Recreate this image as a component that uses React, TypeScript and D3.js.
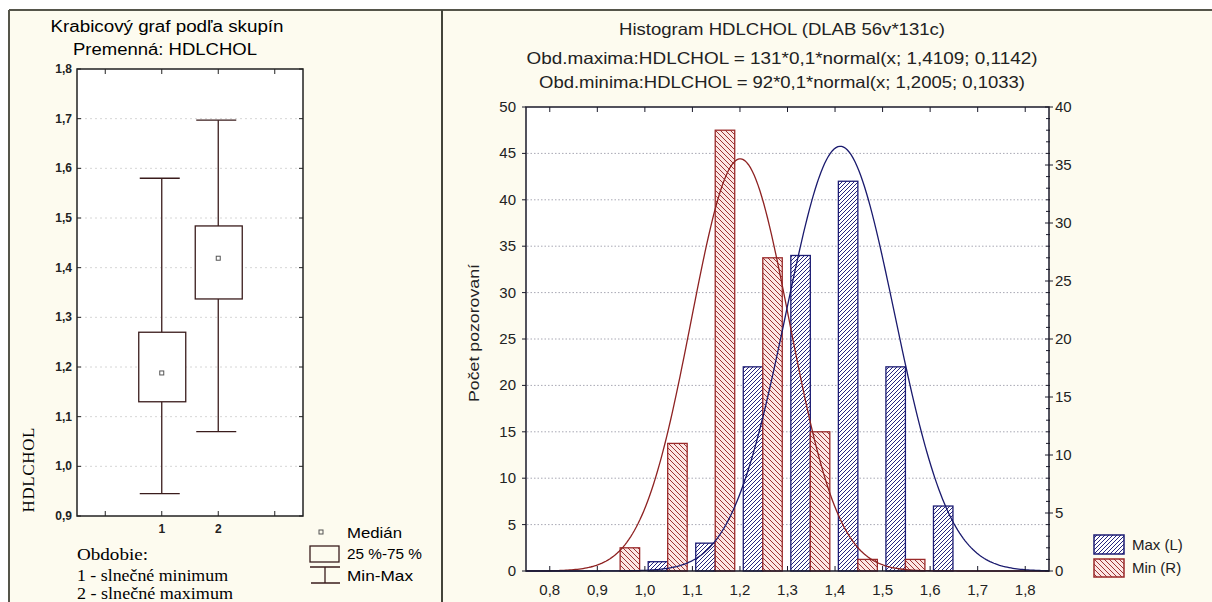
import React, { useEffect, useRef } from "react";
import * as d3 from "d3";

// box plot (left panel)
const boxGroups = [1, 2];
const boxMin = [0.945, 1.07];
const boxQ1 = [1.13, 1.337];
const boxMedian = [1.188, 1.419];
const boxQ3 = [1.27, 1.484];
const boxMax = [1.58, 1.697];
const boxYTicks = [0.9, 1.0, 1.1, 1.2, 1.3, 1.4, 1.5, 1.6, 1.7, 1.8];

// histogram (right panel)
const binStarts = [0.9, 1.0, 1.1, 1.2, 1.3, 1.4, 1.5, 1.6];
const maxCounts = [0, 1, 3, 22, 34, 42, 22, 7];
const minCounts = [2, 11, 38, 27, 12, 1, 1, 0];
const histXTicks = [0.8, 0.9, 1.0, 1.1, 1.2, 1.3, 1.4, 1.5, 1.6, 1.7, 1.8];
const leftTicks = [0, 5, 10, 15, 20, 25, 30, 35, 40, 45, 50];
const rightTicks = [0, 5, 10, 15, 20, 25, 30, 35, 40];

// fitted normal curves, parameters from the chart title
const maxN = 131;
const maxMean = 1.4109;
const maxSd = 0.1142;
const minN = 92;
const minMean = 1.2005;
const minSd = 0.1033;
const binWidth = 0.1;

const comma = (v: number) => d3.format(".1f")(v).replace(".", ",");

const App = () => {
  const ref = useRef<SVGSVGElement>(null);

  useEffect(() => {
    document.body.style.margin = "0";
    const svg = d3.select(ref.current);
    svg.selectAll("*").remove();

    const sans = "'Liberation Sans', Arial, sans-serif";
    const serif = "'Liberation Serif', 'Times New Roman', serif";

    svg.append("rect").attr("width", 1212).attr("height", 602).attr("fill", "#ffffff");
    svg.append("rect").attr("x", 10).attr("y", 10).attr("width", 1202).attr("height", 592).attr("fill", "#fdfbef");

    // patterns
    const defs = svg.append("defs");
    const pb = defs.append("pattern").attr("id", "hatchBlue").attr("patternUnits", "userSpaceOnUse")
      .attr("width", 4).attr("height", 4);
    pb.append("rect").attr("width", 4).attr("height", 4).attr("fill", "#ffffff");
    pb.append("path").attr("d", "M-1,1 l2,-2 M0,4 l4,-4 M3,5 l2,-2")
      .attr("stroke", "#26267e").attr("stroke-width", 1);
    const pr = defs.append("pattern").attr("id", "hatchRed").attr("patternUnits", "userSpaceOnUse")
      .attr("width", 5).attr("height", 5);
    pr.append("rect").attr("width", 5).attr("height", 5).attr("fill", "#fce6e4");
    pr.append("path").attr("d", "M-1,4 l2,2 M0,0 l5,5 M4,-1 l2,2")
      .attr("stroke", "#9c3434").attr("stroke-width", 1);

    // ---------- LEFT: box plot ----------
    const bx = d3.scaleLinear().domain([-0.5, 3.5]).range([77, 303]);
    const by = d3.scaleLinear().domain([0.9, 1.8]).range([516, 69]);
    const left = svg.append("g");

    left.append("text").attr("x", 167).attr("y", 32).attr("text-anchor", "middle")
      .attr("font-family", sans).attr("font-size", 16).attr("textLength", 233)
      .attr("lengthAdjust", "spacingAndGlyphs").text("Krabicový graf podľa skupín");
    left.append("text").attr("x", 165).attr("y", 55).attr("text-anchor", "middle")
      .attr("font-family", sans).attr("font-size", 16).attr("textLength", 184)
      .attr("lengthAdjust", "spacingAndGlyphs").text("Premenná: HDLCHOL");

    left.append("rect").attr("x", 77).attr("y", 69).attr("width", 226).attr("height", 447)
      .attr("fill", "#ffffff");

    boxYTicks.slice(1, -1).forEach((t) => {
      left.append("line").attr("x1", 80).attr("x2", 300).attr("y1", by(t)).attr("y2", by(t))
        .attr("stroke", "#d6d6d6").attr("stroke-dasharray", "2,3");
    });

    const bc = "#3a1c1c";
    boxGroups.forEach((g, i) => {
      const cx = bx(g);
      left.append("line").attr("x1", cx).attr("x2", cx).attr("y1", by(boxMax[i])).attr("y2", by(boxQ3[i]))
        .attr("stroke", bc).attr("stroke-width", 1.3);
      left.append("line").attr("x1", cx).attr("x2", cx).attr("y1", by(boxQ1[i])).attr("y2", by(boxMin[i]))
        .attr("stroke", bc).attr("stroke-width", 1.3);
      [boxMax[i], boxMin[i]].forEach((v) => {
        left.append("line").attr("x1", cx - 22).attr("x2", cx + 18).attr("y1", by(v)).attr("y2", by(v))
          .attr("stroke", bc).attr("stroke-width", 1.3);
      });
      left.append("rect").attr("x", cx - 23).attr("y", by(boxQ3[i])).attr("width", 47)
        .attr("height", by(boxQ1[i]) - by(boxQ3[i])).attr("fill", "#ffffff")
        .attr("stroke", bc).attr("stroke-width", 1.3);
      left.append("rect").attr("x", cx - 2).attr("y", by(boxMedian[i]) - 2).attr("width", 4).attr("height", 4)
        .attr("fill", "none").attr("stroke", "#555").attr("stroke-width", 1);
    });

    // frame + ticks
    left.append("rect").attr("x", 77).attr("y", 69).attr("width", 226).attr("height", 447)
      .attr("fill", "none").attr("stroke", "#222").attr("stroke-width", 1.5);
    boxYTicks.forEach((t) => {
      left.append("line").attr("x1", 77).attr("x2", 81).attr("y1", by(t)).attr("y2", by(t)).attr("stroke", "#222");
      left.append("line").attr("x1", 299).attr("x2", 303).attr("y1", by(t)).attr("y2", by(t)).attr("stroke", "#222");
      left.append("text").attr("x", 72).attr("y", by(t) + 4).attr("text-anchor", "end")
        .attr("font-family", sans).attr("font-size", 12).attr("font-weight", "bold").attr("fill", "#222")
        .text(comma(t));
    });
    [0, 1, 2, 3].forEach((c) => {
      left.append("line").attr("x1", bx(c)).attr("x2", bx(c)).attr("y1", 69).attr("y2", 74).attr("stroke", "#222");
      left.append("line").attr("x1", bx(c)).attr("x2", bx(c)).attr("y1", 511).attr("y2", 516).attr("stroke", "#222");
    });
    boxGroups.forEach((g) => {
      left.append("text").attr("x", bx(g)).attr("y", 533).attr("text-anchor", "middle")
        .attr("font-family", sans).attr("font-size", 12).attr("font-weight", "bold").attr("fill", "#222")
        .text(String(g));
    });

    left.append("text").attr("transform", "translate(34,470) rotate(-90)").attr("text-anchor", "middle")
      .attr("font-family", serif).attr("font-size", 17).attr("textLength", 85).attr("lengthAdjust", "spacing")
      .text("HDLCHOL");

    // left legend
    left.append("rect").attr("x", 319).attr("y", 530).attr("width", 4).attr("height", 4)
      .attr("fill", "none").attr("stroke", "#555");
    left.append("rect").attr("x", 310).attr("y", 546).attr("width", 29).attr("height", 16)
      .attr("fill", "none").attr("stroke", bc).attr("stroke-width", 1.3);
    left.append("path").attr("d", "M310,567 H340 M325,567 V583 M311,583 H340")
      .attr("stroke", bc).attr("stroke-width", 1.3).attr("fill", "none");
    [["Medián", 538, 55], ["25 %-75 %", 559, 75], ["Min-Max", 581, 66]].forEach(([t, y, w]) => {
      left.append("text").attr("x", 347).attr("y", y as number).attr("font-family", sans).attr("font-size", 15)
        .attr("textLength", w as number).attr("lengthAdjust", "spacingAndGlyphs").text(t as string);
    });
    [["Obdobie:", 560, 71], ["1 - slnečné minimum", 581, 151], ["2 - slnečné maximum", 599, 156]].forEach(([t, y, w]) => {
      left.append("text").attr("x", 77).attr("y", y as number).attr("font-family", serif).attr("font-size", 16)
        .attr("textLength", w as number).attr("lengthAdjust", "spacingAndGlyphs").text(t as string);
    });

    // ---------- RIGHT: histogram ----------
    const x = d3.scaleLinear().domain([0.75, 1.85]).range([526, 1049]);
    const yL = d3.scaleLinear().domain([0, 50]).range([571, 107]);
    const yR = d3.scaleLinear().domain([0, 40]).range([571, 107]);
    const right = svg.append("g");

    [
      ["Histogram HDLCHOL (DLAB 56v*131c)", 35, 326],
      ["Obd.maxima:HDLCHOL = 131*0,1*normal(x; 1,4109; 0,1142)", 64, 511],
      ["Obd.minima:HDLCHOL = 92*0,1*normal(x; 1,2005; 0,1033)", 88, 486],
    ].forEach(([t, y, w]) => {
      right.append("text").attr("x", 782).attr("y", y as number).attr("text-anchor", "middle")
        .attr("font-family", sans).attr("font-size", 16.5).attr("fill", "#222")
        .attr("textLength", w as number).attr("lengthAdjust", "spacingAndGlyphs").text(t as string);
    });

    right.append("rect").attr("x", 526).attr("y", 107).attr("width", 523).attr("height", 464).attr("fill", "#ffffff");

    leftTicks.slice(1, -1).forEach((t) => {
      right.append("line").attr("x1", 527).attr("x2", 1048).attr("y1", yL(t)).attr("y2", yL(t))
        .attr("stroke", "#a8a8b4").attr("stroke-dasharray", "1.5,2");
    });

    binStarts.forEach((a, i) => {
      if (maxCounts[i] > 0) {
        right.append("rect").attr("x", x(a + 0.007)).attr("y", yL(maxCounts[i]))
          .attr("width", x(a + 0.048) - x(a + 0.007)).attr("height", yL(0) - yL(maxCounts[i]))
          .attr("fill", "url(#hatchBlue)").attr("stroke", "#1c1c74").attr("stroke-width", 1.3);
      }
      if (minCounts[i] > 0) {
        right.append("rect").attr("x", x(a + 0.048)).attr("y", yR(minCounts[i]))
          .attr("width", x(a + 0.089) - x(a + 0.048)).attr("height", yR(0) - yR(minCounts[i]))
          .attr("fill", "url(#hatchRed)").attr("stroke", "#9a2a2a").attr("stroke-width", 1.3);
      }
    });

    const xs = d3.range(0.75, 1.8501, 0.004);
    const normal = (v: number, m: number, s: number) =>
      Math.exp(-0.5 * ((v - m) / s) ** 2) / (s * Math.sqrt(2 * Math.PI));
    const lineMax = d3.line<number>().x((v) => x(v)).y((v) => yL(maxN * binWidth * normal(v, maxMean, maxSd)));
    const lineMin = d3.line<number>().x((v) => x(v)).y((v) => yR(minN * binWidth * normal(v, minMean, minSd)));
    right.append("path").attr("d", lineMin(xs)).attr("fill", "none").attr("stroke", "#8e2222").attr("stroke-width", 1.3);
    right.append("path").attr("d", lineMax(xs)).attr("fill", "none").attr("stroke", "#1a1a6e").attr("stroke-width", 1.3);

    // frame + axes
    right.append("rect").attr("x", 526).attr("y", 107).attr("width", 523).attr("height", 464)
      .attr("fill", "none").attr("stroke", "#1a1a2a").attr("stroke-width", 1.5);
    histXTicks.forEach((t) => {
      right.append("line").attr("x1", x(t)).attr("x2", x(t)).attr("y1", 107).attr("y2", 112).attr("stroke", "#1a1a2a");
      right.append("line").attr("x1", x(t)).attr("x2", x(t)).attr("y1", 566).attr("y2", 571).attr("stroke", "#1a1a2a");
      right.append("text").attr("x", x(t)).attr("y", 595).attr("text-anchor", "middle")
        .attr("font-family", sans).attr("font-size", 15).attr("fill", "#222").text(comma(t));
    });
    leftTicks.forEach((t) => {
      right.append("line").attr("x1", 522).attr("x2", 526).attr("y1", yL(t)).attr("y2", yL(t)).attr("stroke", "#1a1a2a");
      right.append("text").attr("x", 516).attr("y", yL(t) + 5).attr("text-anchor", "end")
        .attr("font-family", sans).attr("font-size", 15).attr("fill", "#222").text(String(t));
    });
    d3.range(0, 41).forEach((t) => {
      const major = t % 5 === 0;
      right.append("line").attr("x1", major ? 1045 : 1046).attr("x2", major ? 1053 : 1050)
        .attr("y1", yR(t)).attr("y2", yR(t)).attr("stroke", "#1a1a2a");
    });
    rightTicks.forEach((t) => {
      right.append("text").attr("x", 1055).attr("y", yR(t) + 5).attr("font-family", sans)
        .attr("font-size", 15).attr("fill", "#222").text(String(t));
    });

    right.append("text").attr("transform", "translate(479,333) rotate(-90)").attr("text-anchor", "middle")
      .attr("font-family", sans).attr("font-size", 15).attr("fill", "#222")
      .attr("textLength", 138).attr("lengthAdjust", "spacingAndGlyphs").text("Počet pozorovaní");

    // legend
    right.append("rect").attr("x", 1094).attr("y", 535).attr("width", 30).attr("height", 19)
      .attr("fill", "url(#hatchBlue)").attr("stroke", "#1c1c74").attr("stroke-width", 1.5);
    right.append("rect").attr("x", 1094).attr("y", 559).attr("width", 30).attr("height", 18)
      .attr("fill", "url(#hatchRed)").attr("stroke", "#9a2a2a").attr("stroke-width", 1.5);
    right.append("text").attr("x", 1132).attr("y", 550).attr("font-family", sans).attr("font-size", 15)
      .attr("fill", "#222").text("Max (L)");
    right.append("text").attr("x", 1132).attr("y", 573).attr("font-family", sans).attr("font-size", 15)
      .attr("fill", "#222").text("Min (R)");

    // panel borders
    svg.append("line").attr("x1", 9).attr("x2", 1212).attr("y1", 10).attr("y2", 10)
      .attr("stroke", "#55554a").attr("stroke-width", 2);
    svg.append("line").attr("x1", 9).attr("x2", 9).attr("y1", 10).attr("y2", 602)
      .attr("stroke", "#55554a").attr("stroke-width", 2);
    svg.append("line").attr("x1", 442).attr("x2", 442).attr("y1", 10).attr("y2", 602)
      .attr("stroke", "#44443a").attr("stroke-width", 2);
  }, []);

  return (
    <svg ref={ref} width={1212} height={602}
      style={{ position: "absolute", left: 0, top: 0, display: "block" }} />
  );
};

export default App;
